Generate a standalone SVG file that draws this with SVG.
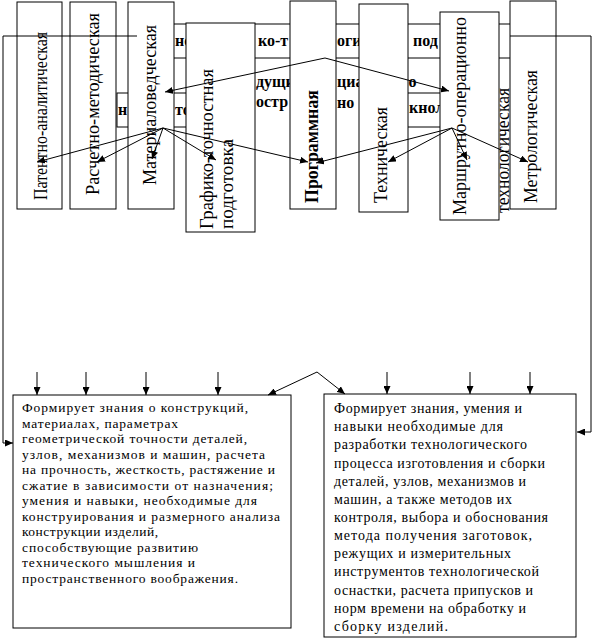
<svg xmlns="http://www.w3.org/2000/svg" width="613" height="638" viewBox="0 0 613 638">
<style>
.box{fill:#fff;stroke:#000;stroke-width:1}
.vt{font-family:'Liberation Serif','DejaVu Serif',serif;font-size:18.5px;fill:#000}
.vb{font-family:'Liberation Serif','DejaVu Serif',serif;font-size:18.5px;font-weight:bold;fill:#000}
.hb{font-family:'Liberation Serif','DejaVu Serif',serif;font-size:16px;font-weight:bold;fill:#000}
.bt{font-family:'Liberation Serif','DejaVu Serif',serif;font-size:13.5px;fill:#000}
.br{font-family:'Liberation Serif','DejaVu Serif',serif;font-size:14px;fill:#000}
.ln{fill:none;stroke:#000;stroke-width:1}
</style>
<defs>
<marker id="ah" viewBox="0 0 8 7" refX="8" refY="3.5" markerWidth="8" markerHeight="7" markerUnits="userSpaceOnUse" orient="auto">
<path d="M0,0 L8,3.5 L0,7 Z" fill="#000"/>
</marker>
</defs>
<rect width="613" height="638" fill="#fff"/>

<g id="header-boxes" font-family="Liberation Serif, DejaVu Serif, serif">
<rect class="box" x="150" y="24" width="380" height="34"/>
<rect class="box" x="117" y="93" width="328" height="34"/>
<rect x="186" y="59" width="222" height="70" fill="#fff"/>
<text class="hb" x="175" y="46">нс</text>
<text class="hb" x="258" y="46">ко-т</text>
<text class="hb" x="337" y="46">оги</text>
<text class="hb" x="413" y="46">под</text>
<text class="hb" x="256" y="87">дущи</text>
<text class="hb" x="337" y="87">циа</text>
<text class="hb" x="408.5" y="87">о</text>
<text class="hb" x="256" y="107">остр</text>
<text class="hb" x="337" y="108">но</text>
<text class="hb" x="118" y="115">н</text>
<text class="hb" x="175" y="115">то</text>
<text class="hb" x="409" y="113">кнол</text>
</g>

<g id="patent" font-family="Liberation Serif, DejaVu Serif, serif">
<rect class="box" x="17" y="2" width="45" height="207"/>
<text class="vt" transform="translate(47,200) rotate(-90)" textLength="168" lengthAdjust="spacingAndGlyphs">Патентно-аналитическая</text>
</g>
<g id="raschet" font-family="Liberation Serif, DejaVu Serif, serif">
<rect class="box" x="70" y="2" width="46" height="207"/>
<text class="vt" transform="translate(99,195) rotate(-90)" textLength="182" lengthAdjust="spacingAndGlyphs">Расчетно-методическая</text>
</g>
<g id="material" font-family="Liberation Serif, DejaVu Serif, serif">
<rect class="box" x="128" y="2" width="46" height="207"/>
<text class="vt" transform="translate(156,185) rotate(-90)" textLength="160" lengthAdjust="spacingAndGlyphs">Материаловедческая</text>
</g>
<g id="grafiko" font-family="Liberation Serif, DejaVu Serif, serif">
<rect class="box" x="186" y="23" width="69" height="209"/>
<text class="vt" transform="translate(213,229) rotate(-90)" textLength="160" lengthAdjust="spacingAndGlyphs">Графико-точностная</text>
<text class="vt" transform="translate(233,229) rotate(-90)" textLength="90" lengthAdjust="spacingAndGlyphs">подготовка</text>
</g>
<g id="programm" font-family="Liberation Serif, DejaVu Serif, serif">
<rect class="box" x="290" y="1" width="46" height="208"/>
<text class="vb" transform="translate(318,203) rotate(-90)" textLength="113" lengthAdjust="spacingAndGlyphs">Программная</text>
</g>
<g id="tehnich" font-family="Liberation Serif, DejaVu Serif, serif">
<rect class="box" x="359" y="4" width="49" height="208"/>
<text class="vt" transform="translate(387,203) rotate(-90)" textLength="96" lengthAdjust="spacingAndGlyphs">Техническая</text>
</g>
<g id="marshrut" font-family="Liberation Serif, DejaVu Serif, serif">
<rect class="box" x="440" y="12" width="59" height="208"/>
<text class="vt" transform="translate(466,215) rotate(-90)" textLength="198" lengthAdjust="spacingAndGlyphs">Маршрутно-операционно</text>
<text class="vt" transform="translate(509,213) rotate(-90)" textLength="125" lengthAdjust="spacingAndGlyphs">технологическая</text>
</g>
<g id="metrolog" font-family="Liberation Serif, DejaVu Serif, serif">
<rect class="box" x="510" y="1" width="46" height="208"/>
<text class="vt" transform="translate(537,203) rotate(-90)" textLength="133" lengthAdjust="spacingAndGlyphs">Метрологическая</text>
</g>

<g id="box-konstr" font-family="Liberation Serif, DejaVu Serif, serif">
<rect class="box" x="13" y="395" width="278" height="233"/>
<text class="bt" x="22" y="412" textLength="226" lengthAdjust="spacing">Формирует знания о конструкций,</text>
<text class="bt" x="22" y="427.5" textLength="156" lengthAdjust="spacing">материалах, параметрах</text>
<text class="bt" x="22" y="443" textLength="225" lengthAdjust="spacing">геометрической точности деталей,</text>
<text class="bt" x="22" y="458.5" textLength="243" lengthAdjust="spacing">узлов, механизмов и машин,  расчета</text>
<text class="bt" x="22" y="474" textLength="253" lengthAdjust="spacing">на прочность, жесткость, растяжение и</text>
<text class="bt" x="22" y="489.5" textLength="251" lengthAdjust="spacing">сжатие в зависимости от назначения;</text>
<text class="bt" x="22" y="505" textLength="235" lengthAdjust="spacing">умения и навыки, необходимые для</text>
<text class="bt" x="22" y="520.5" textLength="258" lengthAdjust="spacing">конструирования и размерного анализа</text>
<text class="bt" x="22" y="536" textLength="136" lengthAdjust="spacing">конструкции изделий,</text>
<text class="bt" x="22" y="551.5" textLength="176" lengthAdjust="spacing">способствующие развитию</text>
<text class="bt" x="22" y="567" textLength="173" lengthAdjust="spacing">технического мышления и</text>
<text class="bt" x="22" y="582.5" textLength="216" lengthAdjust="spacing">пространственного воображения.</text>
</g>

<g id="box-tehnol" font-family="Liberation Serif, DejaVu Serif, serif">
<rect class="box" x="324" y="394" width="252" height="243"/>
<text class="br" x="334" y="413" textLength="188" lengthAdjust="spacing">Формирует знания, умения и</text>
<text class="br" x="334" y="431.2" textLength="169" lengthAdjust="spacing">навыки необходимые для</text>
<text class="br" x="334" y="449.3" textLength="193" lengthAdjust="spacing">разработки технологического</text>
<text class="br" x="334" y="467.5" textLength="211" lengthAdjust="spacing">процесса изготовления и сборки</text>
<text class="br" x="334" y="485.6" textLength="192" lengthAdjust="spacing">деталей, узлов, механизмов и</text>
<text class="br" x="334" y="503.8" textLength="178" lengthAdjust="spacing">машин, а также методов их</text>
<text class="br" x="334" y="521.9" textLength="214" lengthAdjust="spacing">контроля, выбора и обоснования</text>
<text class="br" x="334" y="540.1" textLength="198" lengthAdjust="spacing">метода получения заготовок,</text>
<text class="br" x="334" y="558.2" textLength="177" lengthAdjust="spacing">режущих и измерительных</text>
<text class="br" x="334" y="576.4" textLength="205" lengthAdjust="spacing">инструментов технологической</text>
<text class="br" x="334" y="594.5" textLength="199" lengthAdjust="spacing">оснастки, расчета припусков и</text>
<text class="br" x="334" y="612.7" textLength="192" lengthAdjust="spacing">норм времени на обработку и</text>
<text class="br" x="334" y="630.8" textLength="114" lengthAdjust="spacing">сборку изделий.</text>
</g>

<g id="connectors" class="ln">
<polyline class="ln" points="137,36 3,36 3,443 13,443" marker-end="url(#ah)"/>
<polyline class="ln" points="510,36 591,36 591,432 577,432" marker-end="url(#ah)"/>
<line class="ln" x1="325" y1="58" x2="165" y2="92" marker-end="url(#ah)"/>
<line class="ln" x1="325" y1="58" x2="449" y2="91" marker-end="url(#ah)"/>
<line class="ln" x1="163" y1="128" x2="37" y2="162" marker-end="url(#ah)"/>
<line class="ln" x1="163" y1="128" x2="97" y2="162" marker-end="url(#ah)"/>
<line class="ln" x1="163" y1="128" x2="152" y2="159" marker-end="url(#ah)"/>
<line class="ln" x1="163" y1="128" x2="216" y2="160" marker-end="url(#ah)"/>
<line class="ln" x1="163" y1="128" x2="308" y2="162" marker-end="url(#ah)"/>
<line class="ln" x1="452" y1="128" x2="316" y2="163" marker-end="url(#ah)"/>
<line class="ln" x1="452" y1="128" x2="388" y2="162" marker-end="url(#ah)"/>
<line class="ln" x1="452" y1="128" x2="467" y2="160" marker-end="url(#ah)"/>
<line class="ln" x1="452" y1="128" x2="528" y2="162" marker-end="url(#ah)"/>
<line class="ln" x1="37" y1="372" x2="37" y2="395" marker-end="url(#ah)"/>
<line class="ln" x1="86" y1="372" x2="86" y2="395" marker-end="url(#ah)"/>
<line class="ln" x1="146" y1="372" x2="146" y2="395" marker-end="url(#ah)"/>
<line class="ln" x1="218" y1="372" x2="218" y2="395" marker-end="url(#ah)"/>
<line class="ln" x1="387" y1="372" x2="387" y2="394" marker-end="url(#ah)"/>
<line class="ln" x1="470" y1="372" x2="470" y2="394" marker-end="url(#ah)"/>
<line class="ln" x1="530" y1="372" x2="530" y2="394" marker-end="url(#ah)"/>
<line class="ln" x1="317" y1="372" x2="268" y2="395" marker-end="url(#ah)"/>
<line class="ln" x1="317" y1="372" x2="345" y2="394" marker-end="url(#ah)"/>
</g>
</svg>
